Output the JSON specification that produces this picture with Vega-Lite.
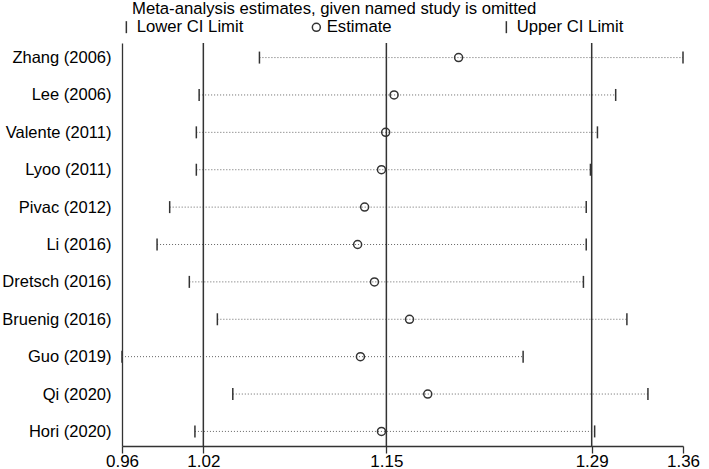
{
  "$schema": "https://vega.github.io/schema/vega-lite/v6.json",
  "width": 561,
  "height": 403,
  "autosize": {"type": "none"},
  "padding": {"left": 122, "top": 43, "right": 26, "bottom": 23},
  "background": "white",
  "config": {
    "font": "Liberation Sans",
    "view": {"stroke": null},
    "axis": {"grid": false, "labelFont": "Liberation Sans", "labelColor": "#000", "domainColor": "#333", "domainWidth": 1.3, "tickColor": "#333", "tickWidth": 1.3}
  },
  "title": {
    "text": "Meta-analysis estimates, given named study is omitted",
    "anchor": "start",
    "frame": "group",
    "dx": 10,
    "offset": 1,
    "fontSize": 16.7,
    "fontWeight": "normal",
    "color": "#000",
    "font": "Liberation Sans"
  },
  "data": {
    "values": [
      {"study": "Zhang (2006)", "lower": 1.058, "est": 1.2, "upper": 1.36},
      {"study": "Lee (2006)", "lower": 1.015, "est": 1.154, "upper": 1.312},
      {"study": "Valente (2011)", "lower": 1.013, "est": 1.148, "upper": 1.299},
      {"study": "Lyoo (2011)", "lower": 1.013, "est": 1.145, "upper": 1.294},
      {"study": "Pivac (2012)", "lower": 0.994, "est": 1.133, "upper": 1.291},
      {"study": "Li (2016)", "lower": 0.985, "est": 1.128, "upper": 1.291},
      {"study": "Dretsch (2016)", "lower": 1.008, "est": 1.14, "upper": 1.289},
      {"study": "Bruenig (2016)", "lower": 1.028, "est": 1.165, "upper": 1.32},
      {"study": "Guo (2019)", "lower": 0.96, "est": 1.13, "upper": 1.246},
      {"study": "Qi (2020)", "lower": 1.039, "est": 1.178, "upper": 1.335},
      {"study": "Hori (2020)", "lower": 1.012, "est": 1.145, "upper": 1.297}
    ]
  },
  "layer": [
    {
      "mark": {"type": "rule", "strokeDash": [1, 2], "color": "#666", "strokeWidth": 1},
      "encoding": {
        "x": {"field": "lower", "type": "quantitative", "scale": {"domain": [0.96, 1.36], "nice": false, "zero": false},
              "axis": {"title": null, "values": [0.96, 1.018, 1.1485, 1.2949, 1.36], "format": ".2f", "tickSize": 7, "labelFontSize": 17, "labelPadding": 0, "labelFlush": false, "labelOverlap": false}},
        "x2": {"field": "upper"},
        "y": {"field": "study", "type": "nominal", "sort": null, "scale": {"type": "point", "padding": 0.39},
              "axis": {"title": null, "ticks": false, "labelPadding": 11, "labelFontSize": 16.5}}
      }
    },
    {
      "data": {"values": [{"ref": 1.018}, {"ref": 1.1485}, {"ref": 1.2949}]},
      "mark": {"type": "rule", "color": "#333", "strokeWidth": 1.5},
      "encoding": {
        "x": {"field": "ref", "type": "quantitative",
              "axis": {"title": null, "values": [0.96, 1.018, 1.1485, 1.2949, 1.36], "format": ".2f", "tickSize": 7, "labelFontSize": 17, "labelPadding": 0, "labelFlush": false, "labelOverlap": false}}
      }
    },
    {
      "transform": [{"fold": ["lower", "est", "upper"], "as": ["type", "value"]}],
      "mark": {"type": "point", "filled": false, "strokeWidth": 1.5, "color": "#333", "size": 64, "opacity": 1},
      "encoding": {
        "x": {"field": "value", "type": "quantitative",
              "axis": {"title": null, "values": [0.96, 1.018, 1.1485, 1.2949, 1.36], "format": ".2f", "tickSize": 7, "labelFontSize": 17, "labelPadding": 0, "labelFlush": false, "labelOverlap": false}},
        "y": {"field": "study", "type": "nominal", "sort": null,
              "axis": {"title": null, "ticks": false, "labelPadding": 11, "labelFontSize": 16.5}},
        "shape": {
          "field": "type", "type": "nominal",
          "scale": {"domain": ["lower", "est", "upper"], "range": ["M0,-1.5L0,1.5", "circle", "M0,-1.5L0,1.5"]},
          "legend": {
            "title": null, "orient": "none", "legendX": -4, "legendY": -24.5, "direction": "horizontal", "columns": 3,
            "gridAlign": "all", "columnPadding": 64, "padding": 0,
            "labelFontSize": 16.7, "labelColor": "#000", "labelFont": "Liberation Sans", "labelOffset": 2,
            "symbolSize": 64, "symbolStrokeWidth": 1.5, "symbolStrokeColor": "#333", "symbolFillColor": "transparent",
            "labelExpr": "datum.label == 'lower' ? 'Lower CI Limit' : datum.label == 'est' ? 'Estimate' : 'Upper CI Limit'"
          }
        }
      }
    }
  ]
}
